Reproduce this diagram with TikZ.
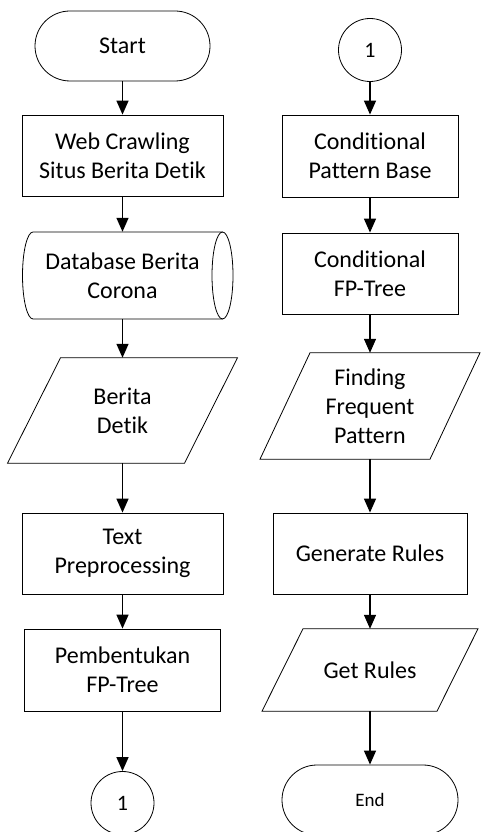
\documentclass[tikz,border=0pt]{standalone}
\usepackage{fontspec}
\setmainfont{Carlito}[RawFeature={-liga;-dlig;-clig;-calt}]
\usetikzlibrary{arrows.meta}
\begin{document}
\begin{tikzpicture}[x=1pt,y=1pt,
  shp/.style={draw=black,line width=0.8pt},
  txt/.style={align=center,font=\fontsize{24}{29}\selectfont,inner sep=0pt},
  term/.style={shp,txt,rounded corners=35pt,minimum width=175pt,minimum height=70pt},
  proc/.style={shp,txt,minimum height=81pt},
  conn/.style={shp,txt,circle,minimum size=63pt,font=\fontsize{22}{26}\selectfont},
  ghost/.style={txt,minimum height=#1},
  arr/.style={line width=1.4pt,-{Triangle[length=14pt,width=12pt]}}]
\useasboundingbox (0,0) rectangle (480,832);
% left column
\node[term] (start) at (122.5,786) {Start};
\node[proc,minimum width=201pt] (web) at (122.5,676.5) {Web Crawling\\Situs Berita Det\kern0pt ik};
\node[ghost=87pt,minimum width=200pt] (db) at (122.5,556.5) {Database Berita\\Corona};
\draw[shp] (222.5,600) -- (33,600) arc[start angle=90,end angle=270,x radius=10.5,y radius=43.5] -- (222.5,513);
\draw[shp] (222.5,556.5) ellipse[x radius=10.5,y radius=43.5];
\node[ghost=105pt,minimum width=120pt] (ber) at (122.5,421.5) {Berita\\Det\kern0pt ik};
\draw[shp] ([xshift=-62pt]ber.north) -- ([xshift=115pt]ber.north) -- ([xshift=62pt]ber.south) -- ([xshift=-115pt]ber.south) -- cycle;
\node[proc,minimum width=201pt] (pre) at (122.5,278.5) {Text\\Preprocessing};
\node[proc,minimum width=196pt,minimum height=82pt] (fp) at (122.5,162) {Pembentukan\\FP-Tree};
\node[conn] (c1a) at (122.5,29) {1};
% right column
\node[conn] (c1b) at (370,782) {1};
\node[proc,minimum width=176pt,minimum height=82pt] (cpb) at (370,676) {Condit\kern0pt ional\\Pattern Base};
\node[proc,minimum width=176pt] (cfp) at (370,558.5) {Condit\kern0pt ional\\FP-Tree};
\node[ghost=106pt,minimum width=120pt] (find) at (370,426) {Finding\\Frequent\\Pattern};
\draw[shp] ([xshift=-60pt]find.north) -- ([xshift=110pt]find.north) -- ([xshift=60pt]find.south) -- ([xshift=-110pt]find.south) -- cycle;
\node[proc,minimum width=194pt] (gen) at (370,278.5) {Generate Rules};
\node[ghost=82pt,minimum width=120pt] (get) at (370,162) {Get Rules};
\draw[shp] ([xshift=-67pt]get.north) -- ([xshift=108pt]get.north) -- ([xshift=67pt]get.south) -- ([xshift=-108pt]get.south) -- cycle;
\node[term,minimum width=176pt,font=\fontsize{19}{23}\selectfont] (end) at (370,32) {End};
% connectors
\draw[arr] (start) -- (web);
\draw[arr] (web) -- (db.north);
\draw[arr] (db.south) -- (ber.north);
\draw[arr] (ber.south) -- (pre);
\draw[arr] (pre) -- (fp);
\draw[arr] (fp) -- (c1a);
\draw[arr] (c1b) -- (cpb);
\draw[arr] (cpb) -- (cfp);
\draw[arr] (cfp) -- (find.north);
\draw[arr] (find.south) -- (gen);
\draw[arr] (gen) -- (get.north);
\draw[arr] (get.south) -- (end);
\end{tikzpicture}
\end{document}
